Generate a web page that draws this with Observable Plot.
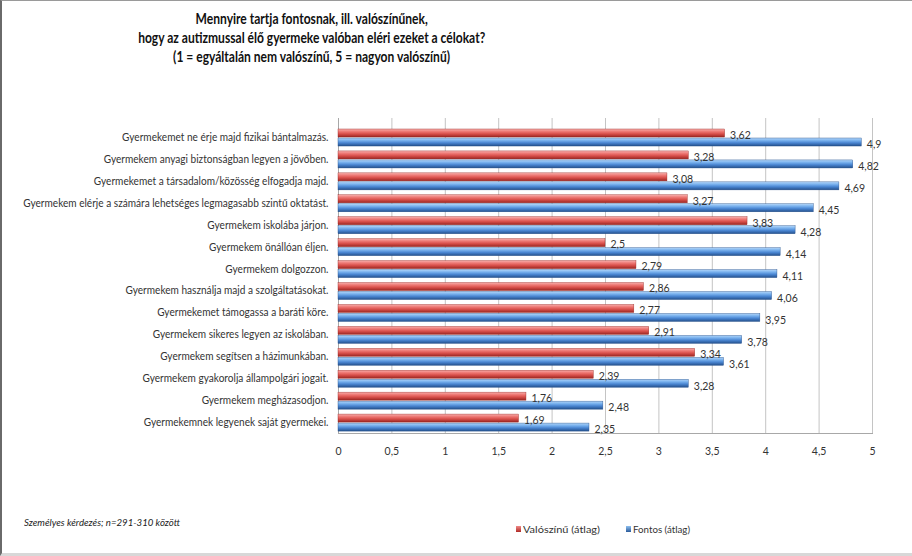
<!DOCTYPE html>
<html>
<head>
<meta charset="utf-8">
<script src="https://cdn.jsdelivr.net/npm/d3@7"></script>
<script src="https://cdn.jsdelivr.net/npm/@observablehq/plot@0.6"></script>
<style>
  html, body { margin: 0; padding: 0; background: #fff; }
  #wrap { position: relative; width: 912px; height: 556px; box-sizing: border-box;
          border-left: 2px solid #6a6a6a; border-top: 1px solid #9a9a9a; border-bottom: 3px solid #d8d8d8; overflow: hidden;
          font-family: Lato, "Liberation Sans", sans-serif; }
  #chart { position: absolute; left: -2px; top: -1px; }
  .tline { position: absolute; left: 0; width: 620px; text-align: center; font-weight: bold; font-size: 14.5px; color: #111; white-space: nowrap; }
  .tline span { display: inline-block; transform-origin: 50% 50%; }
  .foot { position: absolute; left: 22px; top: 515px; font-style: italic; font-size: 10px; color: #222; white-space: nowrap; transform-origin: 0 50%; }
  .legend { position: absolute; top: 522px; font-size: 10px; color: #333; display: flex; align-items: center; white-space: nowrap; }
  .legend .txt { display: inline-block; transform-origin: 0 50%; }
  .sw { display: inline-block; width: 5px; height: 6px; margin-right: 2px; }
</style>
</head>
<body>
<div id="wrap">
  <div class="tline" style="top:9px"><span id="t1"></span></div>
  <div class="tline" style="top:28px"><span id="t2"></span></div>
  <div class="tline" style="top:47px"><span id="t3"></span></div>
  <div id="chart"></div>
  <div class="foot" id="foot"></div>
  <div class="legend" style="left:514px"><span class="sw" style="background:linear-gradient(#f08a88,#b02a26)"></span><span class="txt" id="l1"></span></div>
  <div class="legend" style="left:624px"><span class="sw" style="background:linear-gradient(#8ec0f0,#2a5a9a)"></span><span class="txt" id="l2"></span></div>
</div>
<script>
const titleLines = [
  "Mennyire tartja fontosnak, ill. valószínűnek,",
  "hogy az autizmussal élő gyermeke valóban eléri ezeket a célokat?",
  "(1 = egyáltalán nem valószínű, 5 = nagyon valószínű)"
];
const categories = [
  "Gyermekemet ne érje majd fizikai bántalmazás.",
  "Gyermekem anyagi biztonságban legyen a jövőben.",
  "Gyermekemet a társadalom/közösség elfogadja majd.",
  "Gyermekem elérje a számára lehetséges legmagasabb szintű oktatást.",
  "Gyermekem iskolába járjon.",
  "Gyermekem önállóan éljen.",
  "Gyermekem dolgozzon.",
  "Gyermekem használja majd a szolgáltatásokat.",
  "Gyermekemet támogassa a baráti köre.",
  "Gyermekem sikeres legyen az iskolában.",
  "Gyermekem segítsen a házimunkában.",
  "Gyermekem gyakorolja állampolgári jogait.",
  "Gyermekem megházasodjon.",
  "Gyermekemnek legyenek saját gyermekei."
];
const valoszinu = [3.62, 3.28, 3.08, 3.27, 3.83, 2.5, 2.79, 2.86, 2.77, 2.91, 3.34, 2.39, 1.76, 1.69];
const fontos = [4.9, 4.82, 4.69, 4.45, 4.28, 4.14, 4.11, 4.06, 3.95, 3.78, 3.61, 3.28, 2.48, 2.35];
const seriesNames = ["Valószínű (átlag)", "Fontos (átlag)"];
const xTicks = [0, 0.5, 1, 1.5, 2, 2.5, 3, 3.5, 4, 4.5, 5];
const footnote = "Személyes kérdezés; n=291-310 között";

document.getElementById("t1").textContent = titleLines[0];
document.getElementById("t2").textContent = titleLines[1];
document.getElementById("t3").textContent = titleLines[2];
document.getElementById("foot").textContent = footnote;
document.getElementById("l1").textContent = seriesNames[0];
document.getElementById("l2").textContent = seriesNames[1];

const fmt = v => String(v).replace(".", ",");
const red = categories.map((c, i) => ({cat: c, v: valoszinu[i]}));
const blue = categories.map((c, i) => ({cat: c, v: fontos[i]}));

const plot = Plot.plot({
  width: 912,
  height: 556,
  marginLeft: 338,
  marginRight: 40,
  marginTop: 118,
  marginBottom: 123,
  style: {fontFamily: "Lato, 'Liberation Sans', sans-serif", fontSize: "11px", color: "#333", background: "transparent"},
  x: {domain: [0, 5], ticks: xTicks, tickFormat: fmt, label: null},
  y: {domain: categories, padding: 0, insetTop: 8, round: false, label: null},
  marks: [
    Plot.gridX(xTicks, {stroke: "#c4c4c4", strokeOpacity: 1}),
    Plot.ruleX([0], {stroke: "#a8a8a8"}),
    Plot.frame({anchor: "bottom", stroke: "#a8a8a8"}),
    Plot.axisX({ticks: xTicks, tickFormat: fmt, tickSize: 0, tickPadding: 14, fontSize: 10.5, label: null}),
    Plot.axisY({tickSize: 0, tickPadding: 10, fontSize: 11, label: null}),
    Plot.barX(red, {x: "v", y: "cat", fill: "url(#gRed)", stroke: "#9a2622", strokeWidth: 0.4, insetTop: 3, insetBottom: 10.9}),
    Plot.barX(blue, {x: "v", y: "cat", fill: "url(#gBlue)", stroke: "#244f8a", strokeWidth: 0.4, insetTop: 12, insetBottom: 1.9}),
    Plot.text(red, {x: "v", y: "cat", text: d => fmt(d.v), dx: 5, dy: -2, textAnchor: "start", fontSize: 10.5, fill: "#333"}),
    Plot.text(blue, {x: "v", y: "cat", text: d => fmt(d.v), dx: 5, dy: 7.5, textAnchor: "start", fontSize: 10.5, fill: "#333"})
  ]
});

const ns = "http://www.w3.org/2000/svg";
const defs = document.createElementNS(ns, "defs");
function grad(id, stops) {
  const g = document.createElementNS(ns, "linearGradient");
  g.setAttribute("id", id);
  g.setAttribute("x1", "0"); g.setAttribute("y1", "0");
  g.setAttribute("x2", "0"); g.setAttribute("y2", "1");
  stops.forEach(([o, c]) => {
    const s = document.createElementNS(ns, "stop");
    s.setAttribute("offset", o); s.setAttribute("stop-color", c);
    g.appendChild(s);
  });
  defs.appendChild(g);
}
grad("gRed", [[0, "#f7b0ae"], [0.3, "#ee7a76"], [0.6, "#d9504b"], [1, "#9a2622"]]);
grad("gBlue", [[0, "#b4d6f8"], [0.3, "#7ab2ee"], [0.6, "#4a86d2"], [1, "#24508c"]]);
plot.insertBefore(defs, plot.firstChild);
document.getElementById("chart").appendChild(plot);

// condense text widths to match the reference's narrow typeface
function fitHTML(el, target) {
  const w = el.getBoundingClientRect().width;
  if (w > 0) el.style.transform = `scaleX(${target / w})`;
}
const t2w = document.getElementById("t2").getBoundingClientRect().width;
const ts = 347 / t2w;
["t1", "t2", "t3"].forEach(id => document.getElementById(id).style.transform = `scaleX(${ts})`);
fitHTML(document.getElementById("foot"), 156);
fitHTML(document.getElementById("l1"), 77);
fitHTML(document.getElementById("l2"), 57);

const yTexts = plot.querySelectorAll('g[aria-label="y-axis tick label"] text');
if (yTexts.length) {
  const ref = yTexts[1].getComputedTextLength();
  const s = 225 / ref;
  yTexts.forEach(t => {
    const tr = t.getAttribute("transform") || "";
    t.setAttribute("transform", tr + ` scale(${s},1)`);
  });
}
</script>
</body>
</html>
